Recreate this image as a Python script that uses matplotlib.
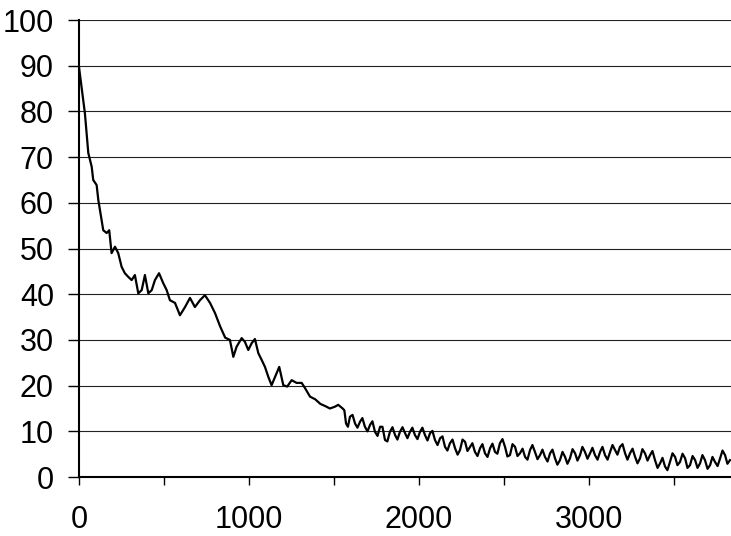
import numpy as np
import matplotlib
matplotlib.use('Agg')
import matplotlib.pyplot as plt
from matplotlib.ticker import MultipleLocator, FuncFormatter

#  Values (head of the curve)
x_head = [0, 25, 35, 55, 75, 84, 104, 114, 133, 143, 163, 178, 192, 212,
          231, 251, 270, 290, 310, 329, 349, 369, 388, 408, 428, 447, 471,
          496, 516, 535, 565, 594, 624, 653, 682, 712, 741, 771, 800, 830,
          860, 888, 908, 927, 957, 976, 996, 1016, 1035, 1055, 1075, 1094,
          1114, 1133, 1153, 1178, 1202, 1225, 1251, 1280, 1310, 1329, 1359,
          1390, 1420, 1450, 1476, 1506, 1525]

y_head = [89.8, 82.5, 79.6, 70.9, 67.9, 65.0, 63.9, 60.6, 56.2, 54.0, 53.4,
          54.0, 49.0, 50.4, 49.0, 46.0, 44.6, 43.8, 43.1, 44.2, 40.2, 40.9,
          44.2, 40.2, 40.9, 43.1, 44.6, 42.4, 40.9, 38.7, 38.1, 35.4, 37.2,
          39.2, 37.2, 38.7, 39.8, 38.1, 35.9, 33.0, 30.5, 30.0, 26.3, 28.5,
          30.4, 29.6, 27.8, 29.3, 30.2, 27.1, 25.6, 24.1, 21.9, 20.1, 21.9,
          24.1, 20.1, 19.8, 21.2, 20.6, 20.6, 19.5, 17.6, 17.0, 16.0, 15.5,
          15.0, 15.4, 15.8]

#  Noisy tail: upper / lower edge of the band read at each position
x_tail = [1551, 1561, 1571, 1582, 1594, 1609, 1624, 1638, 1653, 1667, 1682,
          1697, 1712, 1726, 1741, 1756, 1771, 1785, 1800, 1814, 1829, 1844,
          1859, 1873, 1888, 1903, 1918, 1932, 1947, 1961, 1976, 1991, 2006,
          2020, 2035, 2050, 2065, 2079, 2094, 2109, 2124, 2138, 2153, 2167,
          2182, 2197, 2212, 2227, 2241, 2256, 2271, 2285, 2300, 2314, 2329,
          2344, 2359, 2373, 2388, 2403, 2418, 2432, 2447, 2461, 2476, 2491,
          2506, 2520, 2535, 2550, 2565, 2579, 2594, 2609, 2624, 2638, 2653,
          2667, 2682, 2697, 2712, 2726, 2741, 2756, 2771, 2785, 2800, 2814,
          2829, 2844, 2859, 2873, 2888, 2903, 2918, 2932, 2947, 2961, 2976,
          2991, 3006, 3020, 3035, 3050, 3065, 3079, 3094, 3109, 3124, 3138,
          3153, 3167, 3182, 3197, 3212, 3226, 3241, 3256, 3271, 3285, 3300,
          3314, 3329, 3344, 3359, 3373, 3388, 3403, 3418, 3432, 3447, 3461,
          3476, 3491, 3506, 3520, 3535, 3550, 3565, 3579, 3594, 3609, 3624,
          3638, 3653, 3667, 3682, 3697, 3712, 3726, 3741, 3756, 3771, 3785,
          3800, 3814, 3829]

y_tail = [15.0, 14.6, 11.7, 11.0, 13.2, 13.6, 11.7, 10.8, 12.1, 12.9, 11.0,
          10.0, 11.4, 12.2, 9.9, 9.0, 11.0, 11.0, 8.1, 7.8, 9.9, 10.9,
          9.2, 8.2, 9.9, 10.9, 9.6, 8.5, 9.9, 10.8, 9.2, 8.3, 9.9,
          10.8, 9.2, 8.0, 9.6, 10.1, 8.1, 7.0, 8.5, 8.9, 6.6, 5.8,
          7.4, 8.2, 6.3, 4.9, 5.9, 8.2, 7.7, 5.7, 6.6, 7.4, 5.5,
          4.6, 6.3, 7.2, 5.2, 4.4, 6.3, 7.3, 5.5, 5.1, 7.4, 8.3,
          6.6, 4.5, 4.8, 7.2, 6.6, 4.6, 5.2, 6.2, 4.4, 3.8, 5.9,
          7.0, 5.5, 3.9, 4.8, 6.0, 4.4, 3.4, 5.2, 6.0, 4.1, 2.7,
          3.7, 5.5, 4.4, 2.9, 4.1, 6.1, 5.2, 3.6, 4.8, 6.6, 5.5,
          4.0, 5.2, 6.4, 4.8, 3.8, 5.5, 6.6, 4.8, 3.8, 5.5, 7.0,
          5.9, 4.9, 6.6, 7.2, 5.2, 3.8, 5.2, 6.2, 4.4, 3.0, 4.1,
          6.1, 5.2, 3.6, 4.8, 5.7, 3.7, 2.0, 3.0, 4.2, 2.3, 1.5,
          3.3, 5.2, 4.4, 2.6, 3.3, 5.1, 4.1, 2.0, 2.6, 4.6, 3.7,
          2.0, 3.0, 4.8, 3.7, 1.8, 2.6, 4.4, 3.3, 2.4, 4.1, 5.8,
          4.8, 2.9, 3.7]

x_vals = x_head + x_tail
y_vals = y_head + y_tail

x_labels = [0, 1000, 2000, 3000]


def tick_fmt(val, pos):
    #  Only label full thousands
    if int(round(val)) in x_labels:
        return '%d' % val
    return ''


if __name__ == '__main__':
    plt.rc('font', family='Liberation Sans', size=22)

    fig = plt.figure(figsize=(7.31, 5.36), dpi=100)
    ax = fig.add_axes([0.108, 0.110, 0.892, 0.8526])

    ax.plot(x_vals, y_vals, color='black', linewidth=1.6)

    ax.set_xlim(0, 3835)
    ax.set_ylim(0, 100)

    ax.yaxis.set_major_locator(MultipleLocator(10))
    ax.xaxis.set_major_locator(MultipleLocator(500))
    ax.xaxis.set_major_formatter(FuncFormatter(tick_fmt))

    ax.grid(axis='y', color='#222222', linewidth=0.8)
    ax.set_axisbelow(True)

    for side in ['top', 'right']:
        ax.spines[side].set_visible(False)
    ax.spines['left'].set_linewidth(1.5)
    ax.spines['bottom'].set_linewidth(1.5)

    ax.tick_params(axis='y', direction='out', length=8, width=1, pad=10)
    ax.tick_params(axis='x', direction='out', length=6, width=1, pad=14)

    fig.savefig('out.png', dpi=100)
    plt.close()
